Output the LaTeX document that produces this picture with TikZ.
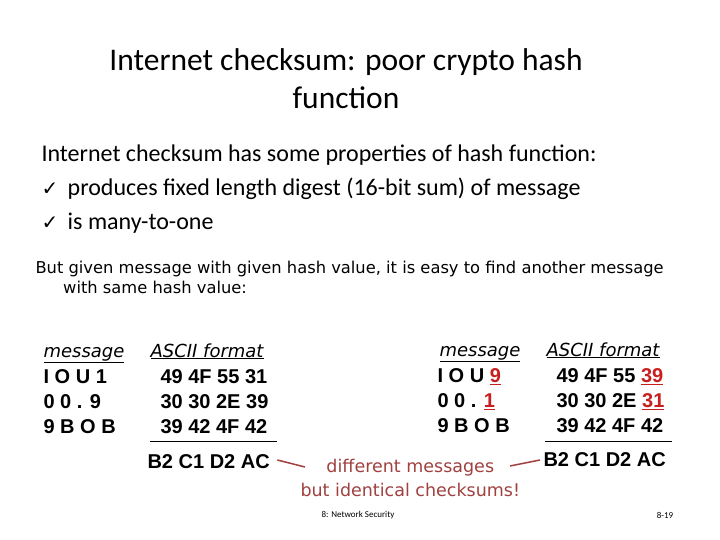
\documentclass[tikz,border=0pt]{standalone}
\usepackage{fontspec}
\setmainfont{Carlito}
\newfontfamily\djfont{DejaVu Sans}
\newfontfamily\arfont{Liberation Sans}
\begin{document}
\begin{tikzpicture}[x=1pt,y=-1pt,
  title/.style={font=\fontsize{31.5}{38}\selectfont,align=center},
  body/.style={font=\fontsize{24}{26}\selectfont,anchor=west},
  note/.style={font=\djfont\fontsize{16.3}{20}\selectfont,anchor=west},
  hdr/.style={font=\djfont\itshape\fontsize{18}{20}\selectfont,anchor=base west},
  data/.style={font=\arfont\bfseries\fontsize{20}{25}\selectfont,anchor=west,align=left},
  foot/.style={font=\fontsize{9}{10}\selectfont}]
\useasboundingbox (0,0) rectangle (720,540);
\definecolor{mred}{RGB}{200,30,30}
\definecolor{mbrown}{RGB}{160,64,63}
\node[title] (t) at (346,79) {Internet checksum: poor crypto hash\\function};
\node[body] (b1) at (38,155) {Internet checksum has some properties of hash function:};
\node[body] (b2) at (38,189) {{\djfont\fontsize{20}{22}\selectfont✓}\, produces fixed length digest (16-bit sum) of message};
\node[body] (b3) at (38,223) {{\djfont\fontsize{20}{22}\selectfont✓}\, is many-to-one};
\node[note,align=left] (n) at (32,277) {But given message with given hash value, it is easy to find another message\\\hspace*{1.7em}with same hash value:};
\node[hdr] (h1) at (40,357) {\underline{message}};
\node[hdr] (h2) at (147,357) {\underline{ASCII format}};
\node[hdr] (h3) at (436,356) {\underline{message}};
\node[hdr] (h4) at (543,356) {\underline{ASCII format}};
\node[data,anchor=north west] (m1) at (40,366) {I O U 1\\0 0 . 9\\9 B O B};
\node[data,anchor=north west] (a1) at (157,366) {49 4F 55 31\\30 30 2E 39\\39 42 4F 42};
\node[data,anchor=north west] (m2) at (434,365) {I O U \textcolor{mred}{\underline{9}}\\0 0 . \textcolor{mred}{\underline{1}}\\9 B O B};
\node[data,anchor=north west] (a2) at (553,365) {49 4F 55 \textcolor{mred}{\underline{39}}\\30 30 2E \textcolor{mred}{\underline{31}}\\39 42 4F 42};
\draw (150,441) -- (277,441);
\draw (545,441) -- (672,441);
\node[data] (s1) at (144,462) {B2 C1 D2 AC};
\node[data] (s2) at (540,460) {B2 C1 D2 AC};
\node[note,text=mbrown,align=center,font=\djfont\fontsize{17.5}{24}\selectfont] (d) at (297,478) {different messages\\but identical checksums!};
\coordinate (dl) at (305,467);
\coordinate (dr) at (510,466);
\draw[mbrown,line width=1.5pt] (s1.east) ++(4,-2) -- (dl);
\draw[mbrown,line width=1.5pt] (dr) -- (s2.west);
\node[foot] (f1) at (358,515) {8: Network Security};
\node[foot] (f2) at (665,515) {8-19};
\end{tikzpicture}
\end{document}
